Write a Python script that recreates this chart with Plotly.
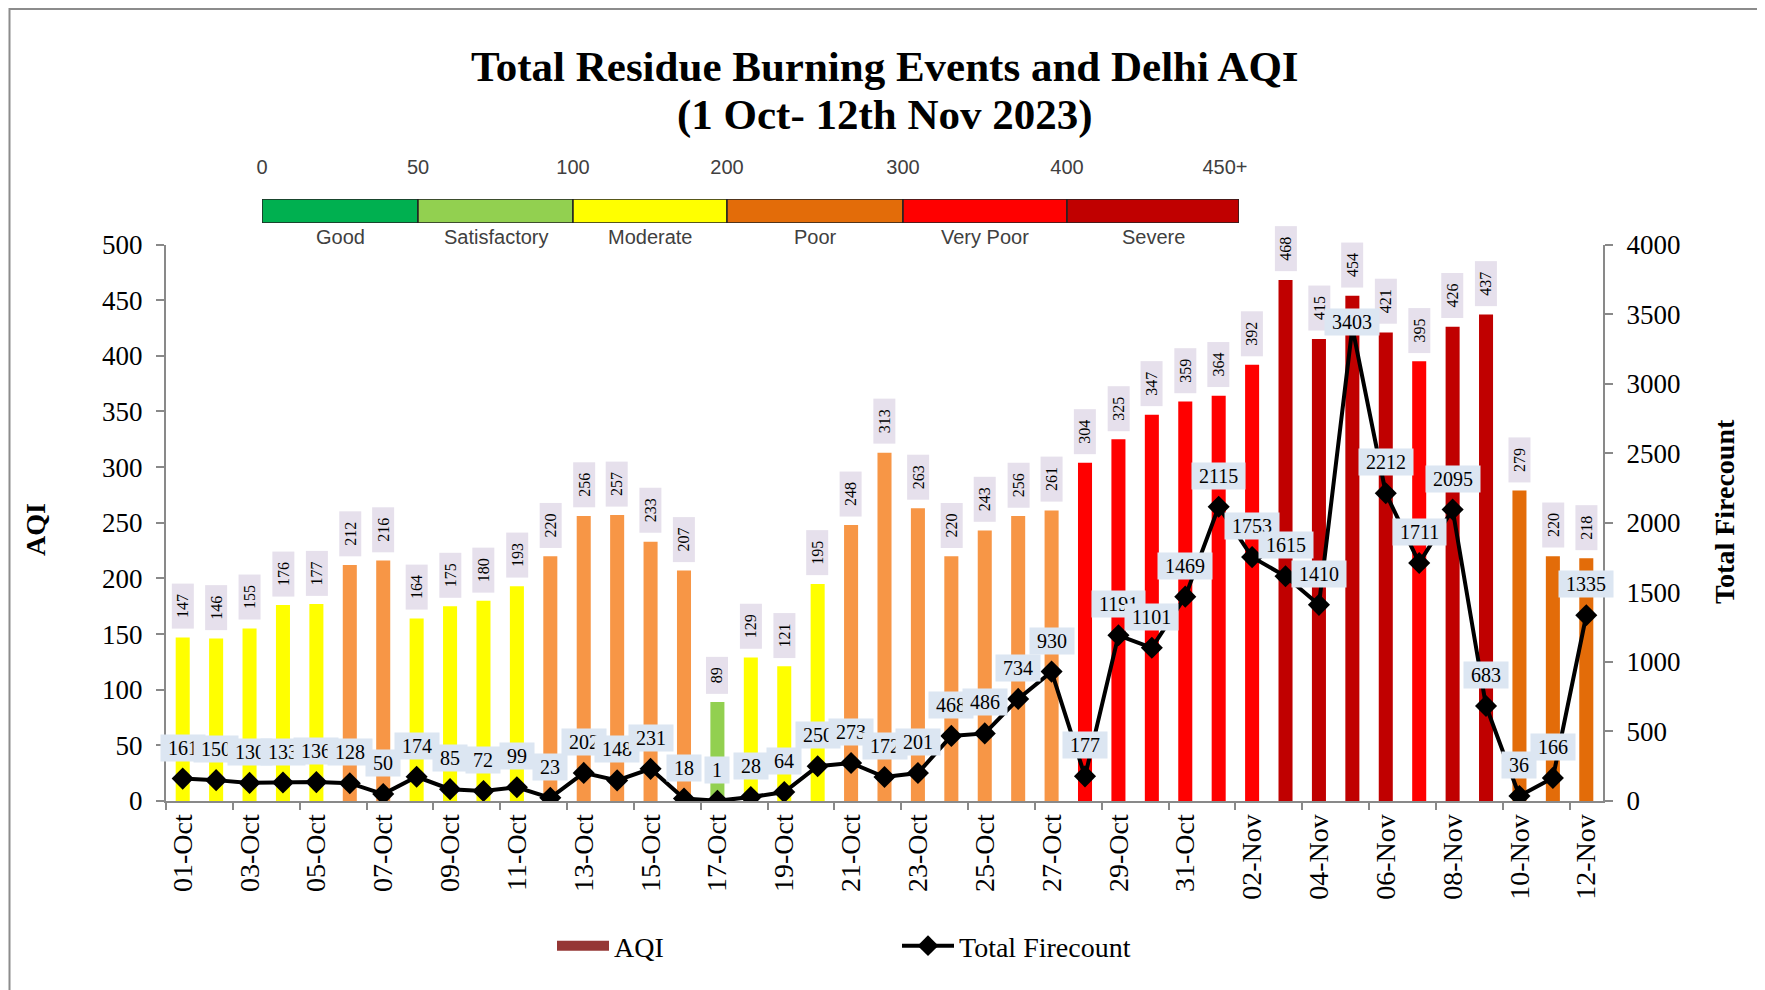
import plotly.graph_objects as go
import pandas as pd

# categories: one bar per day, 1 Oct - 12 Nov 2023
dates = pd.date_range("2023-10-01", "2023-11-12").strftime("%d-%b").tolist()

aqi = [147, 146, 155, 176, 177, 212, 216, 164, 175, 180,
       193, 220, 256, 257, 233, 207, 89, 129, 121, 195,
       248, 313, 263, 220, 243, 256, 261, 304, 325, 347,
       359, 364, 392, 468, 415, 454, 421, 395, 426, 437,
       279, 220, 218]

firecount = [161, 150, 130, 133, 136, 128, 50, 174, 85, 72,
             99, 23, 202, 148, 231, 18, 1, 28, 64, 250,
             273, 172, 201, 468, 486, 734, 930, 177, 1191, 1101,
             1469, 2115, 1753, 1615, 1410, 3403, 2212, 1711, 2095, 683,
             36, 166, 1335]

# bar shade as drawn in the chart (read per day)
bar_shade = (["mod"] * 5 + ["poor"] * 2 + ["mod"] * 4 + ["poor"] * 5 + ["sat"]
             + ["mod"] * 3 + ["poor"] * 7 + ["vpoor"] * 6 + ["sev"] * 4
             + ["vpoor"] + ["sev"] * 2 + ["poor2"] * 3)

# AQI category key
band_names = ["Good", "Satisfactory", "Moderate", "Poor", "Very Poor", "Severe"]
band_limits = ["0", "50", "100", "200", "300", "400", "450+"]
band_colors = ["#00B050", "#92D050", "#FFFF00", "#E36C09", "#FF0000", "#C00000"]

shade_colors = {"sat": "#92D050", "mod": "#FFFF00", "poor": "#F79646",
                "poor2": "#E36C09", "vpoor": "#FF0000", "sev": "#C00000"}
band_px = [156, 155, 154, 176, 164, 172]  # drawn width of each key box

# page body has an 8px margin, so the figure is a bit smaller than the window
OFF = 8
W, H = 1765 - OFF, 990 - OFF
L, R, T, B = 158, 162, 162, 189
pw, ph = W - L - R, H - T - B


def px(x):  # screen x -> paper x
    return (x - OFF - L) / pw


def py(y):  # screen y -> paper y
    return (H - B - (y - OFF)) / ph


serif = "Liberation Serif"

fig = go.Figure()

# legend-only swatch for AQI
fig.add_trace(go.Scatter(x=[None], y=[None], name="AQI", mode="lines",
                         line=dict(color="#953735", width=18)))

fig.add_trace(go.Bar(
    x=dates, y=aqi, width=0.42, showlegend=False,
    marker=dict(color=[shade_colors[s] for s in bar_shade], line_width=0),
))

fig.add_trace(go.Scatter(
    x=dates, y=firecount, yaxis="y2", name="Total Firecount",
    mode="lines+markers",
    line=dict(color="black", width=4),
    marker=dict(symbol="diamond", size=17, color="black"),
))

# AQI key at top
edges = [0]
for w in band_px:
    edges.append(edges[-1] + w)
fig.add_trace(go.Bar(
    x=band_px, base=edges[:-1], y=[0] * len(band_names),
    orientation="h", width=1, xaxis="x3", yaxis="y3", showlegend=False, hoverinfo="skip",
    marker=dict(color=band_colors, line=dict(color="#222", width=1.5)),
))

ann = []
for d, v in zip(dates, aqi):
    ann.append(dict(
        x=d, y=v, xref="x", yref="y", text=f"&nbsp;&nbsp;{v}&nbsp;&nbsp;",
        textangle=-90, showarrow=False, xanchor="center", yanchor="bottom", yshift=8,
        bgcolor="#E6E0EC", borderpad=2,
        font=dict(family=serif, size=16, color="black"),
    ))
for d, f in zip(dates, firecount):
    ann.append(dict(
        x=d, y=f, xref="x", yref="y2", text=f"&nbsp;{f}&nbsp;",
        showarrow=False, xanchor="center", yanchor="bottom",
        yshift=-8 if f == max(firecount) else 17,
        bgcolor="#DCE6F2", borderpad=2,
        font=dict(family=serif, size=20, color="black"),
    ))
for i, name in enumerate(band_names):
    ann.append(dict(
        x=(edges[i] + edges[i + 1]) / 2, y=0, xref="x3", yref="y3 domain", text=name,
        showarrow=False, xanchor="center", yanchor="top", yshift=-1,
        font=dict(family="Liberation Sans", size=20, color="#404040"),
    ))

# titles
mid = dict(xref="paper", yref="paper", showarrow=False, xanchor="center", yanchor="middle")
ann.append(dict(x=0.5, y=py(66), text="<b>Total Residue Burning Events and Delhi AQI</b>",
                font=dict(family=serif, size=43, color="black"), **mid))
ann.append(dict(x=0.5, y=py(115), text="<b>(1 Oct- 12th Nov 2023)</b>",
                font=dict(family=serif, size=43, color="black"), **mid))
ann.append(dict(x=px(35), y=py(530), text="<b>AQI</b>", textangle=-90,
                font=dict(family=serif, size=28, color="black"), **mid))
ann.append(dict(x=px(1724), y=py(512), text="<b>Total Firecount</b>", textangle=-90,
                font=dict(family=serif, size=28, color="black"), **mid))

axis_col = "#898989"
tick_font = dict(family=serif, size=27, color="black")

key_ticks = edges[:-1] + [edges[-1] - 14]

fig.update_layout(
    width=W, height=H,
    margin=dict(l=L, r=R, t=T, b=B, autoexpand=False),
    paper_bgcolor="white", plot_bgcolor="white",
    barmode="overlay",
    annotations=ann,
    xaxis=dict(
        type="category", range=[-0.5, len(dates) - 0.5], dtick=2, tickangle=-90,
        tickson="boundaries",
        showline=True, linecolor=axis_col, linewidth=2,
        ticks="outside", ticklen=7, tickcolor=axis_col, tickwidth=2,
        showgrid=False, tickfont=dict(family=serif, size=28, color="black"),
    ),
    yaxis=dict(
        domain=[0, py(244.5)], range=[0, 500], dtick=50,
        showline=True, linecolor=axis_col, linewidth=2,
        ticks="outside", ticklen=8, tickcolor=axis_col, tickwidth=2,
        showgrid=False, zeroline=False, tickfont=tick_font, ticklabelstandoff=8,
    ),
    yaxis2=dict(
        overlaying="y", side="right", range=[0, 4000], dtick=500,
        showline=True, linecolor=axis_col, linewidth=2,
        ticks="outside", ticklen=8, tickcolor=axis_col, tickwidth=2,
        showgrid=False, zeroline=False, tickfont=tick_font, ticklabelstandoff=8,
    ),
    xaxis3=dict(
        domain=[px(262), px(262 + edges[-1])], anchor="y3", range=[0, edges[-1]], side="top",
        tickvals=key_ticks, ticktext=band_limits,
        ticks="outside", ticklen=16, tickcolor="rgba(0,0,0,0)",
        showline=False, showgrid=False, zeroline=False, fixedrange=True,
        tickfont=dict(family="Liberation Sans", size=20, color="#404040"),
    ),
    yaxis3=dict(
        domain=[py(223), py(199)], anchor="x3", range=[-0.5, 0.5], visible=False,
    ),
    legend=dict(
        orientation="h", xref="container", yref="container",
        x=(552 - OFF) / W, xanchor="left", y=1 - (946 - OFF) / H, yanchor="middle",
        font=dict(family=serif, size=28, color="black"),
        itemwidth=52, entrywidth=278, bgcolor="rgba(0,0,0,0)",
    ),
    shapes=[dict(type="rect", xref="paper", yref="paper",
                 x0=px(9.5), x1=px(1763), y0=py(1010), y1=py(9),
                 line=dict(color="#8C8C8C", width=2), layer="below")],
)

fig.write_html("out.html")
